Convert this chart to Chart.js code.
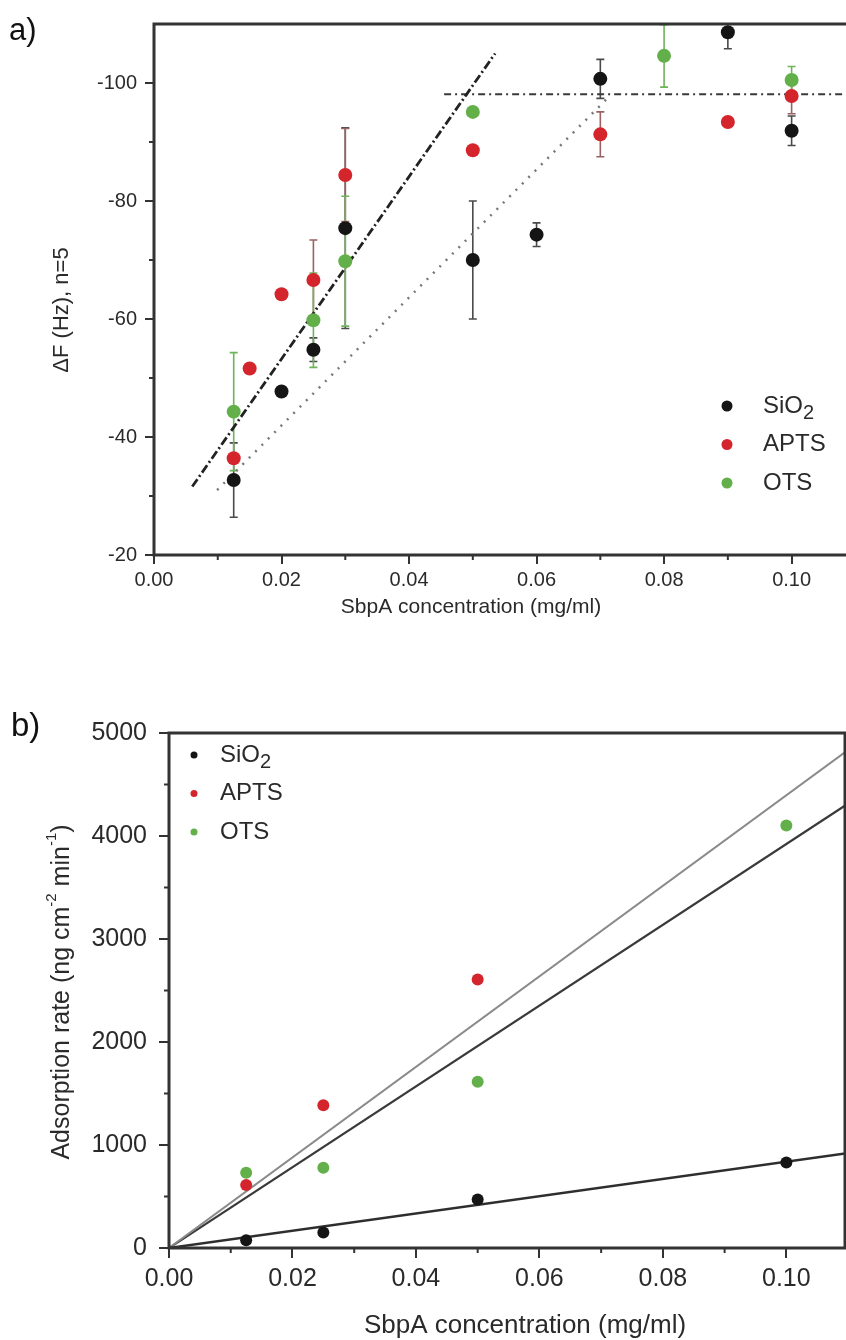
<!DOCTYPE html>
<html>
<head>
<meta charset="utf-8">
<script src="https://cdn.jsdelivr.net/npm/chart.js@4/dist/chart.umd.min.js"></script>
<style>
  html, body { margin: 0; padding: 0; background: #fff; overflow: hidden; }
  #panelA { position: absolute; left: 0; top: 0; }
  #panelB { position: absolute; left: 0; top: 650px; }
</style>
</head>
<body>
<canvas id="panelA" width="856" height="650"></canvas>
<canvas id="panelB" width="851" height="690"></canvas>
<script>
const FONT = "'Liberation Sans', Arial, sans-serif";
const TEXT = '#2a2a2a';

const seriesNames = ['SiO2', 'APTS', 'OTS'];
const seriesColors = ['#151515', '#d4242c', '#63b04a'];
const errColors = ['#4a4a4a', '#9a6262', '#6fb45a'];

// panel a: frequency shift, n=5
const sio2ConcA = [0.0125, 0.02, 0.025, 0.03, 0.05, 0.06, 0.07, 0.09, 0.10];
const sio2ShiftA = [-32.7, -47.7, -54.8, -75.4, -70.0, -74.3, -100.7, -108.6, -91.9];
const sio2ErrA = [6.3, 0, 2, 17, 10, 2, 3.3, 2.8, 2.5];
const aptsConcA = [0.0125, 0.015, 0.02, 0.025, 0.03, 0.05, 0.07, 0.09, 0.10];
const aptsShiftA = [-36.4, -51.6, -64.2, -66.6, -84.4, -88.6, -91.3, -93.4, -97.8];
const aptsErrA = [0, 0, 0, 6.8, 7.9, 0, 3.8, 0, 3];
const otsConcA = [0.0125, 0.025, 0.03, 0.05, 0.08, 0.10];
const otsShiftA = [-44.3, -59.8, -69.8, -95.1, -104.6, -100.5];
const otsErrA = [10, 8, 11, 0, 5.3, 2.3];

// guide lines in panel a
const steepX = [0.006, 0.0535];
const steepY = [-31.6, -105];
const slowX = [0.0099, 0.0712];
const slowY = [-31, -97.5];
const plateauX = [0.0455, 0.109];
const plateauY = [-98.1, -98.1];

const xTicks = [0, 0.02, 0.04, 0.06, 0.08, 0.10];
const yTicksA = [-100, -80, -60, -40, -20];

// panel b: adsorption rate
const sio2ConcB = [0.0125, 0.025, 0.05, 0.10];
const sio2RateB = [75, 150, 472, 831];
const aptsConcB = [0.0125, 0.025, 0.05];
const aptsRateB = [611, 1387, 2606];
const otsConcB = [0.0125, 0.025, 0.05, 0.10];
const otsRateB = [730, 779, 1615, 4103];

const fitXB = [0, 0.11];
const sio2FitB = [0, 922];
const aptsFitB = [0, 4836];
const otsFitB = [0, 4315];

const yTicksB = [0, 1000, 2000, 3000, 4000, 5000];

const pts = (xs, ys) => xs.map((x, i) => ({x: x, y: ys[i]}));

function drawRich(ctx, parts, x, y, size, align, small) {
  const fontFor = m => (m ? Math.round(size * small) : size) + 'px ' + FONT;
  let w = 0;
  parts.forEach(p => { ctx.font = fontFor(p[1]); w += ctx.measureText(p[0]).width; });
  let cx = align === 'center' ? x - w / 2 : x;
  ctx.textAlign = 'left';
  ctx.textBaseline = 'middle';
  parts.forEach(p => {
    ctx.font = fontFor(p[1]);
    const dy = p[1] === 1 ? size * 0.32 : p[1] === 2 ? -size * 0.42 : 0;
    ctx.fillText(p[0], cx, y + dy);
    cx += ctx.measureText(p[0]).width;
  });
}

function nameParts(name) {
  const m = name.match(/^(.*?)(\d+)$/);
  return m ? [[m[1], 0], [m[2], 1]] : [[name, 0]];
}

const deco = {
  id: 'deco',
  beforeDatasetsDraw(chart) {
    const ctx = chart.ctx, xs = chart.scales.x, ys = chart.scales.y, area = chart.chartArea;
    ctx.save();
    ctx.beginPath();
    ctx.rect(area.left, area.top, area.right - area.left, area.bottom - area.top);
    ctx.clip();
    chart.data.datasets.forEach(ds => {
      if (!ds.errors) return;
      ctx.strokeStyle = ds.errColor;
      ctx.lineWidth = 1.6;
      ds.data.forEach((p, i) => {
        const e = ds.errors[i];
        if (!e) return;
        const px = xs.getPixelForValue(p.x);
        const y1 = ys.getPixelForValue(p.y - e), y2 = ys.getPixelForValue(p.y + e);
        ctx.beginPath();
        ctx.moveTo(px, y1); ctx.lineTo(px, y2);
        ctx.moveTo(px - 4, y1); ctx.lineTo(px + 4, y1);
        ctx.moveTo(px - 4, y2); ctx.lineTo(px + 4, y2);
        ctx.stroke();
      });
    });
    ctx.restore();
  },
  afterDraw(chart, args, opts) {
    const ctx = chart.ctx, area = chart.chartArea, xs = chart.scales.x, ys = chart.scales.y;
    ctx.save();
    // frame
    ctx.strokeStyle = '#333';
    ctx.lineWidth = 3;
    ctx.strokeRect(area.left, area.top, area.right - area.left, area.bottom - area.top);
    // minor ticks
    ctx.lineWidth = 2;
    const ml = opts.minorLen;
    for (let i = 0; i < xs.ticks.length; i++) {
      const a = xs.ticks[i].value, b = i + 1 < xs.ticks.length ? xs.ticks[i + 1].value : a + (a - xs.ticks[i - 1].value);
      const mid = (a + b) / 2;
      if (mid > xs.max) continue;
      const px = xs.getPixelForValue(mid);
      ctx.beginPath(); ctx.moveTo(px, area.bottom); ctx.lineTo(px, area.bottom + ml); ctx.stroke();
    }
    for (let i = 0; i + 1 < ys.ticks.length; i++) {
      const py = ys.getPixelForValue((ys.ticks[i].value + ys.ticks[i + 1].value) / 2);
      ctx.beginPath(); ctx.moveTo(area.left - ml, py); ctx.lineTo(area.left, py); ctx.stroke();
    }
    // panel letter
    ctx.font = opts.letter.size + 'px ' + FONT;
    ctx.textAlign = 'left';
    ctx.textBaseline = 'alphabetic';
    ctx.fillStyle = '#111';
    ctx.fillText(opts.letter.text, opts.letter.x, opts.letter.y);
    ctx.fillStyle = TEXT;
    // axis titles
    drawRich(ctx, opts.xTitle.parts, opts.xTitle.x, opts.xTitle.y, opts.xTitle.size, 'center', 0.62);
    ctx.save();
    ctx.translate(opts.yTitle.x, opts.yTitle.y);
    ctx.rotate(-Math.PI / 2);
    drawRich(ctx, opts.yTitle.parts, 0, 0, opts.yTitle.size, 'center', 0.6);
    ctx.restore();
    // legend
    const lg = opts.legend;
    seriesNames.forEach((name, i) => {
      const y = lg.y + i * lg.gap;
      ctx.fillStyle = seriesColors[i];
      ctx.beginPath(); ctx.arc(lg.x, y, lg.r, 0, Math.PI * 2); ctx.fill();
      ctx.fillStyle = TEXT;
      drawRich(ctx, nameParts(name), lg.textX, y, lg.size, 'left', 0.82);
    });
    ctx.restore();
  }
};

function scatterSet(i, xs, ys, errs, r) {
  return {
    label: seriesNames[i], data: pts(xs, ys), errors: errs, errColor: errColors[i],
    backgroundColor: seriesColors[i], borderColor: seriesColors[i], borderWidth: 0, pointRadius: r
  };
}
function lineSet(xs, ys, color, width, dash) {
  return {
    label: '', data: pts(xs, ys), showLine: true, pointRadius: 0,
    borderColor: color, borderWidth: width, borderDash: dash || [], fill: false
  };
}
function axisOpts(min, max, tickVals, fmt, size, tl, pad, fitFn, extra) {
  return Object.assign({
    type: 'linear', min: min, max: max,
    afterBuildTicks: s => { s.ticks = tickVals.map(v => ({value: v})); },
    afterFit: fitFn,
    border: {display: false},
    grid: {drawOnChartArea: false, drawTicks: true, tickLength: tl, color: '#333', lineWidth: 2},
    ticks: {font: {size: size, family: FONT}, color: TEXT, padding: pad, callback: fmt, maxRotation: 0, autoSkip: false}
  }, extra || {});
}
const fixX = h => s => { s.height = h; s.paddingLeft = 0; s.paddingRight = 0; };
const fixY = w => s => { s.width = w; };

new Chart(document.getElementById('panelA'), {
  type: 'scatter',
  data: {
    datasets: [
      scatterSet(0, sio2ConcA, sio2ShiftA, sio2ErrA, 7),
      scatterSet(1, aptsConcA, aptsShiftA, aptsErrA, 7),
      scatterSet(2, otsConcA, otsShiftA, otsErrA, 7),
      lineSet(steepX, steepY, '#222', 2.8, [9, 3, 2, 3]),
      lineSet(slowX, slowY, '#777', 2.5, [2, 7]),
      lineSet(plateauX, plateauY, '#3a3a3a', 2, [7, 4, 2, 4])
    ]
  },
  options: {
    responsive: false, animation: false, events: [],
    layout: {padding: {top: 24, right: 1, left: 0, bottom: 0}},
    plugins: {
      legend: {display: false}, tooltip: {enabled: false},
      deco: {
        minorLen: 5,
        letter: {text: 'a)', x: 9, y: 40, size: 31},
        xTitle: {parts: [['SbpA concentration (mg/ml)', 0]], x: 471, y: 607, size: 21},
        yTitle: {parts: [['\u0394F (Hz), n=5', 0]], x: 62, y: 310, size: 22},
        legend: {x: 727, y: 406, gap: 38.5, r: 5.5, textX: 763, size: 24}
      }
    },
    scales: {
      x: axisOpts(0, 0.109, xTicks, v => v.toFixed(2), 20, 9, 4, fixX(95)),
      y: axisOpts(-110, -20, yTicksA, v => String(v), 20, 9, 8, fixY(154), {reverse: true})
    }
  },
  plugins: [deco]
});

new Chart(document.getElementById('panelB'), {
  type: 'scatter',
  data: {
    datasets: [
      scatterSet(0, sio2ConcB, sio2RateB, null, 6),
      scatterSet(1, aptsConcB, aptsRateB, null, 6),
      scatterSet(2, otsConcB, otsRateB, null, 6),
      lineSet(fitXB, sio2FitB, '#2e2e2e', 2.5),
      lineSet(fitXB, aptsFitB, '#8a8a8a', 2),
      lineSet(fitXB, otsFitB, '#3a3a3a', 2.2)
    ]
  },
  options: {
    responsive: false, animation: false, events: [],
    layout: {padding: {top: 83, right: 1, left: 0, bottom: 0}},
    plugins: {
      legend: {display: false}, tooltip: {enabled: false},
      deco: {
        minorLen: 5,
        letter: {text: 'b)', x: 11, y: 86, size: 33},
        xTitle: {parts: [['SbpA concentration (mg/ml)', 0]], x: 525, y: 676, size: 26},
        yTitle: {parts: [['Adsorption rate (ng cm', 0], ['-2', 2], [' min', 0], ['-1', 2], [')', 0]], x: 62, y: 342, size: 25},
        legend: {x: 194, y: 105, gap: 38.5, r: 3.5, textX: 220, size: 24}
      }
    },
    scales: {
      x: axisOpts(0, 0.1095, xTicks, v => v.toFixed(2), 25, 10, 6, fixX(92)),
      y: axisOpts(0, 5000, yTicksB, v => String(v), 25, 10, 12, fixY(169))
    }
  },
  plugins: [deco]
});
</script>
</body>
</html>
